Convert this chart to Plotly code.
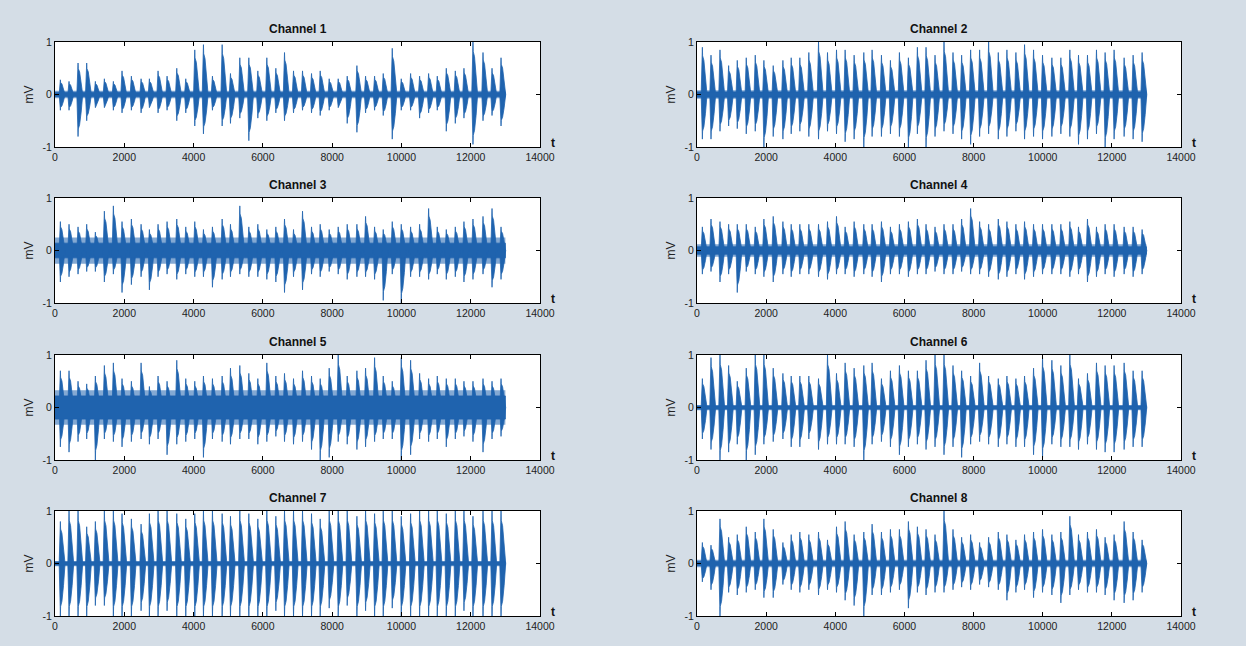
import plotly.graph_objects as go

# Burst onset times shared by all channels (samples)
burst_t = [150, 400, 660, 910, 1160, 1420, 1680, 1930, 2200, 2480,
           2720, 2970, 3230, 3510, 3770, 4030, 4280, 4540, 4820, 5060,
           5330, 5590, 5850, 6110, 6370, 6620, 6880, 7140, 7400, 7650,
           7910, 8170, 8430, 8710, 8960, 9220, 9470, 9730, 9990, 10260,
           10520, 10780, 11030, 11290, 11550, 11800, 12060, 12350, 12610, 12870]
t_end = 13000

# Positive / negative burst peaks per channel (mV)
ch1_pos = [0.28, 0.25, 0.6, 0.6, 0.25, 0.3, 0.25, 0.45, 0.35, 0.3, 0.3, 0.45, 0.35, 0.5, 0.3, 0.85, 0.95, 0.35, 0.95, 0.4,
           0.7, 0.7, 0.45, 0.7, 0.5, 0.8, 0.45, 0.45, 0.4, 0.45, 0.3, 0.3, 0.35, 0.55, 0.35, 0.35, 0.4, 0.88, 0.3, 0.4,
           0.35, 0.4, 0.35, 0.5, 0.45, 0.5, 1.0, 0.8, 0.5, 0.7]
ch1_neg = [-0.3, -0.3, -0.8, -0.5, -0.25, -0.25, -0.3, -0.35, -0.3, -0.35, -0.25, -0.35, -0.3, -0.5, -0.35, -0.6, -0.75, -0.3, -0.6, -0.55,
           -0.45, -0.88, -0.45, -0.5, -0.35, -0.5, -0.35, -0.3, -0.35, -0.4, -0.3, -0.25, -0.55, -0.72, -0.35, -0.3, -0.4, -0.85, -0.3, -0.3,
           -0.45, -0.35, -0.3, -0.7, -0.55, -0.45, -0.95, -0.5, -0.4, -0.6]
ch2_pos = [0.9, 0.75, 0.85, 0.55, 0.65, 0.7, 0.75, 0.65, 0.55, 0.65, 0.7, 0.7, 0.8, 1.0, 0.8, 0.85, 0.85, 0.75, 0.8, 0.85,
           0.75, 0.65, 0.8, 0.7, 0.9, 0.9, 0.75, 1.0, 0.8, 0.75, 0.85, 0.85, 1.0, 0.8, 0.85, 0.8, 0.95, 0.85, 0.75, 0.7,
           0.7, 0.85, 0.75, 0.75, 0.85, 0.8, 0.85, 0.7, 0.75, 0.8]
ch2_neg = [-0.85, -0.85, -0.7, -0.6, -0.65, -0.75, -0.7, -1.0, -0.8, -0.85, -0.75, -0.7, -0.8, -0.85, -0.7, -0.75, -0.9, -0.85, -1.0, -0.8,
           -0.8, -0.75, -0.8, -1.0, -0.75, -1.0, -0.8, -0.7, -0.75, -0.85, -0.95, -0.8, -0.75, -0.85, -0.8, -0.7, -0.85, -0.8, -0.85, -0.8,
           -0.75, -0.8, -0.95, -0.85, -0.75, -1.0, -0.85, -0.8, -0.85, -0.9]
ch3_pos = [0.55, 0.5, 0.45, 0.5, 0.35, 0.75, 0.85, 0.55, 0.6, 0.5, 0.4, 0.5, 0.55, 0.6, 0.45, 0.55, 0.4, 0.45, 0.6, 0.5,
           0.85, 0.45, 0.5, 0.4, 0.45, 0.6, 0.4, 0.75, 0.45, 0.5, 0.4, 0.45, 0.5, 0.5, 0.65, 0.45, 0.4, 0.55, 0.5, 0.45,
           0.5, 0.8, 0.45, 0.4, 0.45, 0.55, 0.6, 0.65, 0.8, 0.45]
ch3_neg = [-0.6, -0.5, -0.45, -0.4, -0.4, -0.6, -0.45, -0.8, -0.65, -0.5, -0.75, -0.5, -0.45, -0.55, -0.45, -0.5, -0.5, -0.7, -0.55, -0.5,
           -0.45, -0.5, -0.5, -0.55, -0.6, -0.8, -0.5, -0.75, -0.45, -0.5, -0.4, -0.45, -0.55, -0.5, -0.5, -0.55, -0.95, -0.45, -1.0, -0.5,
           -0.5, -0.55, -0.45, -0.55, -0.5, -0.6, -0.55, -0.45, -0.7, -0.55]
ch4_pos = [0.45, 0.6, 0.55, 0.5, 0.5, 0.5, 0.45, 0.6, 0.65, 0.55, 0.5, 0.5, 0.5, 0.5, 0.55, 0.65, 0.45, 0.55, 0.5, 0.5,
           0.55, 0.45, 0.5, 0.55, 0.6, 0.5, 0.45, 0.5, 0.5, 0.6, 0.8, 0.55, 0.5, 0.6, 0.55, 0.5, 0.55, 0.5, 0.5, 0.5,
           0.5, 0.55, 0.45, 0.6, 0.45, 0.5, 0.5, 0.45, 0.45, 0.4]
ch4_neg = [-0.45, -0.4, -0.6, -0.45, -0.8, -0.4, -0.45, -0.5, -0.6, -0.45, -0.5, -0.45, -0.45, -0.5, -0.55, -0.45, -0.45, -0.5, -0.45, -0.5,
           -0.6, -0.45, -0.45, -0.5, -0.45, -0.45, -0.4, -0.45, -0.45, -0.4, -0.45, -0.45, -0.5, -0.55, -0.5, -0.45, -0.55, -0.5, -0.45, -0.45,
           -0.45, -0.5, -0.45, -0.6, -0.5, -0.45, -0.5, -0.45, -0.5, -0.45]
ch5_pos = [0.7, 0.7, 0.5, 0.45, 0.6, 0.8, 0.85, 0.55, 0.5, 0.85, 0.4, 0.6, 0.5, 0.9, 0.55, 0.5, 0.6, 0.55, 0.6, 0.75,
           0.8, 0.65, 0.55, 0.85, 0.6, 0.65, 0.55, 0.7, 0.6, 0.55, 0.75, 1.0, 0.6, 0.7, 0.75, 0.95, 0.6, 0.5, 0.95, 0.9,
           0.65, 0.55, 0.6, 0.55, 0.55, 0.5, 0.5, 0.55, 0.5, 0.55]
ch5_neg = [-0.75, -0.85, -0.65, -0.6, -1.0, -0.6, -0.65, -0.75, -0.65, -0.6, -0.7, -0.6, -0.9, -0.7, -0.65, -0.6, -0.95, -0.6, -0.65, -0.7,
           -0.6, -0.6, -0.7, -0.65, -0.55, -0.65, -0.7, -0.65, -0.8, -1.0, -0.95, -0.65, -0.7, -0.8, -0.75, -0.65, -0.6, -0.6, -1.0, -0.9,
           -0.6, -0.65, -0.6, -0.75, -0.6, -0.55, -0.65, -0.85, -0.6, -0.55]
ch6_pos = [0.55, 0.95, 1.0, 0.8, 0.5, 0.75, 1.0, 1.0, 0.75, 0.65, 0.6, 0.6, 0.6, 0.55, 1.0, 0.65, 0.85, 0.75, 0.8, 0.85,
           0.55, 0.7, 0.8, 0.7, 0.7, 0.9, 1.0, 1.0, 0.8, 0.7, 0.6, 0.85, 0.6, 0.55, 0.6, 0.55, 0.6, 0.75, 0.95, 0.9,
           0.8, 1.0, 0.55, 0.65, 0.85, 0.8, 0.8, 0.85, 0.7, 0.7]
ch6_neg = [-0.6, -0.8, -1.0, -0.85, -0.7, -1.0, -0.9, -0.7, -0.65, -0.6, -0.75, -0.75, -0.6, -0.8, -0.7, -0.7, -0.7, -0.75, -1.0, -0.7,
           -0.65, -0.75, -0.9, -0.75, -0.7, -0.8, -0.75, -0.9, -0.75, -0.95, -0.7, -0.65, -0.7, -0.75, -0.7, -0.75, -0.75, -0.9, -0.95, -0.7,
           -0.75, -0.75, -0.8, -0.7, -0.8, -0.85, -0.85, -0.8, -0.75, -0.75]
ch7_pos = [0.8, 1.0, 1.0, 0.7, 0.8, 1.0, 1.0, 0.95, 0.85, 0.75, 0.95, 1.0, 1.0, 0.95, 0.85, 0.95, 1.0, 1.0, 0.95, 0.9,
           1.0, 0.95, 0.85, 1.0, 0.9, 1.0, 1.0, 1.0, 0.95, 0.85, 1.0, 1.0, 1.0, 0.9, 1.0, 0.95, 1.0, 1.0, 0.9, 0.95,
           1.0, 1.0, 1.0, 0.95, 1.0, 1.0, 0.9, 1.0, 1.0, 1.0]
ch7_neg = [-1.0, -1.0, -1.0, -1.0, -0.8, -0.8, -1.0, -1.0, -1.0, -0.9, -1.0, -1.0, -0.9, -1.0, -1.0, -1.0, -1.0, -1.0, -1.0, -1.0,
           -1.0, -1.0, -1.0, -1.0, -0.9, -1.0, -1.0, -1.0, -1.0, -1.0, -0.85, -1.0, -0.8, -1.0, -0.9, -1.0, -1.0, -0.85, -1.0, -1.0,
           -1.0, -1.0, -1.0, -1.0, -1.0, -0.9, -1.0, -1.0, -1.0, -1.0]
ch8_pos = [0.4, 0.35, 0.85, 0.5, 0.55, 0.7, 0.6, 0.85, 0.65, 0.4, 0.55, 0.6, 0.55, 0.6, 0.45, 0.7, 0.8, 0.55, 0.6, 0.75,
           0.6, 0.65, 0.65, 0.8, 0.7, 0.65, 0.55, 1.0, 0.65, 0.5, 0.55, 0.4, 0.5, 0.6, 0.55, 0.45, 0.55, 0.6, 0.65, 0.55,
           0.6, 0.9, 0.55, 0.6, 0.65, 0.5, 0.55, 0.8, 0.6, 0.45]
ch8_neg = [-0.35, -0.5, -1.0, -0.55, -0.6, -0.55, -0.5, -0.65, -0.65, -0.4, -0.5, -0.55, -0.5, -0.6, -0.5, -0.55, -0.7, -0.8, -1.0, -0.6,
           -0.6, -0.55, -0.5, -0.85, -0.55, -0.6, -0.55, -0.55, -0.5, -0.45, -0.5, -0.4, -0.45, -0.5, -0.7, -0.55, -0.5, -0.65, -0.55, -0.6,
           -0.75, -0.6, -0.5, -0.55, -0.55, -0.6, -0.7, -0.75, -0.7, -0.55]

# Background activity between bursts (mV): dense inner band and sparse outer fringe
noise_inner = [0.04, 0.05, 0.14, 0.07, 0.22, 0.03, 0.03, 0.04]
noise_outer = [0.07, 0.08, 0.25, 0.12, 0.33, 0.05, 0.05, 0.07]

channel_names = ["Channel 1", "Channel 2", "Channel 3", "Channel 4",
                 "Channel 5", "Channel 6", "Channel 7", "Channel 8"]
x_ticks = [0, 2000, 4000, 6000, 8000, 10000, 12000, 14000]
y_ticks = [-1, 0, 1]

peaks = [(ch1_pos, ch1_neg), (ch2_pos, ch2_neg), (ch3_pos, ch3_neg), (ch4_pos, ch4_neg),
         (ch5_pos, ch5_neg), (ch6_pos, ch6_neg), (ch7_pos, ch7_neg), (ch8_pos, ch8_neg)]

W, H = 1246, 646
BLUE = "#1f63ae"
FONT = "Liberation Sans"

# burst envelope: sharp onset, single peak spike, then a full body that decays
# (offsets in samples, heights as a fraction of the burst peak)
ENV_DT = [-30, 0, 5, 12, 50, 95, 140]
ENV_FR = [0.0, 0.82, 1.0, 0.82, 0.72, 0.42, 0.0]

# plot-area positions in pixels: (left, right) per column, (top, bottom) per row
cols_px = [(55, 540), (697, 1181)]
rows_px = [(42, 147), (198, 303), (355, 460), (511, 616)]

fig = go.Figure()
annotations = []


def band(level):
    return [0, t_end, t_end, 0, 0, None], [level, level, -level, -level, level, None]


for i in range(8):
    r, c = divmod(i, 2)
    n = i + 1
    xa = "x" if n == 1 else f"x{n}"
    ya = "y" if n == 1 else f"y{n}"
    pos, neg = peaks[i]

    # sparse outer fringe of the background activity
    bx, by = band(noise_outer[i])
    fig.add_trace(go.Scatter(x=bx, y=by, mode="lines", fill="toself",
                             fillcolor="rgba(31,99,174,0.55)", line=dict(width=0),
                             xaxis=xa, yaxis=ya, showlegend=False, hoverinfo="skip"))

    # dense inner band + bursts
    xs, ys = band(noise_inner[i])
    for t, hi, lo in zip(burst_t, pos, neg):
        xs += [t + d for d in ENV_DT] + [t + d for d in reversed(ENV_DT)] + [t + ENV_DT[0], None]
        ys += [hi * f for f in ENV_FR] + [lo * f for f in reversed(ENV_FR)] + [0, None]
    fig.add_trace(go.Scatter(x=xs, y=ys, mode="lines", fill="toself", fillcolor=BLUE,
                             line=dict(color=BLUE, width=0.8), xaxis=xa, yaxis=ya,
                             showlegend=False, hoverinfo="skip"))

    left, right = cols_px[c]
    top, bottom = rows_px[r]
    xdom = [left / W, right / W]
    ydom = [1 - bottom / H, 1 - top / H]
    axis_common = dict(showline=True, linecolor="#000000", linewidth=1, mirror="allticks",
                       ticks="inside", ticklen=4, tickcolor="#000000", showgrid=False,
                       zeroline=False, automargin=False,
                       tickfont=dict(family=FONT, size=10.5, color="#222222"))
    fig.layout[("xaxis" if n == 1 else f"xaxis{n}")] = dict(
        domain=xdom, range=[0, 14000], tickvals=x_ticks,
        ticktext=[str(v) for v in x_ticks], anchor=ya, **axis_common)
    fig.layout[("yaxis" if n == 1 else f"yaxis{n}")] = dict(
        domain=ydom, range=[-1, 1], tickvals=y_ticks,
        ticktext=[str(v) for v in y_ticks], anchor=xa,
        title=dict(text="mV", font=dict(family=FONT, size=12, color="#222222"), standoff=6),
        **axis_common)

    annotations.append(dict(text=f"<b>{channel_names[i]}</b>", x=(left + right) / 2 / W,
                            y=1 - (top - 13) / H, xref="paper", yref="paper", showarrow=False,
                            xanchor="center", yanchor="middle",
                            font=dict(family=FONT, size=12, color="#111111")))
    annotations.append(dict(text="<b>t</b>", x=(right + 13) / W, y=1 - (bottom - 4) / H,
                            xref="paper", yref="paper", showarrow=False,
                            xanchor="center", yanchor="middle",
                            font=dict(family=FONT, size=12, color="#111111")))

fig.update_layout(width=W, height=H, margin=dict(l=0, r=0, t=0, b=0),
                  paper_bgcolor="#d4dde6", plot_bgcolor="#ffffff",
                  annotations=annotations, showlegend=False)

fig.write_html("out.html")
